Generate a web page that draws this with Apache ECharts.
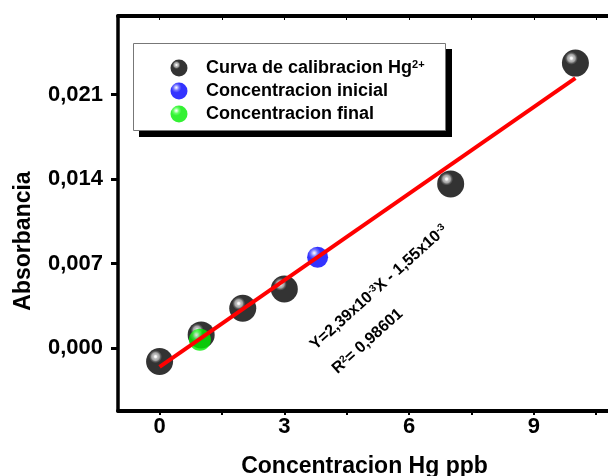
<!DOCTYPE html>
<html>
<head>
<meta charset="utf-8">
<style>
  html, body { margin: 0; padding: 0; background: #ffffff; }
  #chart { width: 608px; height: 476px; }
</style>
<script src="https://cdn.jsdelivr.net/npm/echarts@6/dist/echarts.min.js"></script>
</head>
<body>
<div id="chart"></div>
<script>
// Calibration standards (Hg, ppb) and measured absorbance
const calibX = [0, 1, 2, 3, 7, 10];
const calibY = [-0.0011, 0.0011, 0.0033, 0.0049, 0.0136, 0.0236];

// Sample concentrations before and after treatment
const initialPoint = [[3.8, 0.00753]];
const finalPoint = [[0.97, 0.0007]];

// Linear fit stated on the chart: Y = 2,39x10^-3 X - 1,55x10^-3
const fitSlope = 2.39e-3;
const fitIntercept = -1.55e-3;
const fitRange = [0, 10];

// Axis ticks
const xTickLabels = [0, 3, 6, 9];
const xMinorTicks = [0, 1.5, 3, 4.5, 6, 7.5, 9, 10.5];
const yTickLabels = [0, 0.007, 0.014, 0.021];

const FONT = 'Liberation Sans, Arial, sans-serif';

function sphere(light, mid, edge) {
  return new echarts.graphic.RadialGradient(0.34, 0.3, 0.6, [
    { offset: 0, color: '#ffffff' },
    { offset: 0.1, color: light },
    { offset: 0.28, color: mid },
    { offset: 0.5, color: edge },
    { offset: 1, color: edge }
  ]);
}

const blackBall = new echarts.graphic.RadialGradient(0.35, 0.32, 0.6, [
  { offset: 0, color: '#ffffff' },
  { offset: 0.07, color: '#f0f0f0' },
  { offset: 0.13, color: '#b4b4b4' },
  { offset: 0.24, color: '#8c8c8c' },
  { offset: 0.31, color: '#3a3a3a' },
  { offset: 0.4, color: '#000000' },
  { offset: 1, color: '#000000' }
]);
const blueBall = sphere('#c8c8ff', '#5050ff', '#0000ff');
const greenBall = sphere('#c8ffc8', '#40ff40', '#00ee00');

const fitLine = fitRange.map(x => [x, fitSlope * x + fitIntercept]);

const NAME_CAL = 'Curva de calibracion Hg';
const NAME_INI = 'Concentracion inicial';
const NAME_FIN = 'Concentracion final';

const chart = echarts.init(document.getElementById('chart'), null, { renderer: 'canvas' });

const richSmall = {
  m: { fontFamily: FONT, fontWeight: 'bold', fontSize: 16, lineHeight: 16, fill: '#000' },
  s: { fontFamily: FONT, fontWeight: 'bold', fontSize: 10, lineHeight: 6, verticalAlign: 'top', fill: '#000' }
};

chart.setOption({
  animation: false,
  backgroundColor: '#ffffff',
  textStyle: { fontFamily: FONT },
  grid: { left: 118, top: 16, right: -9, bottom: 65, containLabel: false, outerBoundsMode: 'none' },
  legend: {
    orient: 'vertical',
    left: 133,
    top: 43,
    padding: [16, 20, 9, 37.5],
    itemWidth: 17,
    itemHeight: 17,
    itemGap: 5,
    icon: 'circle',
    selectedMode: false,
    backgroundColor: 'transparent',
    borderWidth: 0,
    z: 6,
    data: [NAME_CAL, NAME_INI, NAME_FIN],
    formatter: function (name) {
      return name === NAME_CAL ? '{g|}{t|' + name + '}{s|2+}' : '{g|}{t|' + name + '}';
    },
    textStyle: {
      fontFamily: FONT,
      fontWeight: 'bold',
      fontSize: 18,
      color: '#000000',
      rich: {
        g: { width: 13.5, lineHeight: 17 },
        t: { fontFamily: FONT, fontWeight: 'bold', fontSize: 18, lineHeight: 17, color: '#000' },
        s: { fontFamily: FONT, fontWeight: 'bold', fontSize: 11, lineHeight: 3, verticalAlign: 'top', color: '#000' }
      }
    }
  },
  xAxis: [
    {
      type: 'value',
      position: 'bottom',
      min: -1,
      max: 11,
      name: 'Concentracion Hg ppb',
      nameLocation: 'middle',
      nameGap: 44,
      nameTextStyle: { fontFamily: FONT, fontWeight: 'bold', fontSize: 23, color: '#000', padding: [0, 6, 0, 0] },
      axisLine: { show: true, onZero: false, lineStyle: { color: '#000', width: 4 } },
      axisTick: { show: true, inside: false, length: 4, customValues: xMinorTicks, lineStyle: { color: '#000', width: 2 } },
      axisLabel: {
        show: true,
        customValues: xTickLabels,
        margin: 5,
        fontFamily: FONT,
        fontWeight: 'bold',
        fontSize: 22,
        color: '#000',
        formatter: v => String(v)
      },
      splitLine: { show: false }
    },
    {
      type: 'value',
      position: 'top',
      min: -1,
      max: 11,
      axisLine: { show: true, onZero: false, lineStyle: { color: '#000', width: 4 } },
      axisTick: { show: true, inside: true, length: 4, customValues: xMinorTicks, lineStyle: { color: '#000', width: 1 } },
      axisLabel: { show: false },
      splitLine: { show: false }
    }
  ],
  yAxis: {
    type: 'value',
    min: -0.0052,
    max: 0.0275,
    axisLine: { show: true, onZero: false, lineStyle: { color: '#000', width: 3.5 } },
    axisTick: { show: true, inside: false, length: 7, customValues: yTickLabels, lineStyle: { color: '#000', width: 3 } },
    axisLabel: {
      show: true,
      customValues: yTickLabels,
      margin: 15,
      fontFamily: FONT,
      fontWeight: 'bold',
      fontSize: 22,
      color: '#000',
      formatter: v => v.toFixed(3).replace('.', ',')
    },
    splitLine: { show: false }
  },
  series: [
    {
      name: NAME_CAL,
      type: 'scatter',
      symbol: 'circle',
      symbolSize: 27,
      itemStyle: { color: blackBall },
      data: calibX.map((x, i) => [x, calibY[i]])
    },
    {
      name: NAME_INI,
      type: 'scatter',
      symbol: 'circle',
      symbolSize: 21,
      itemStyle: { color: blueBall },
      data: initialPoint
    },
    {
      name: NAME_FIN,
      type: 'scatter',
      symbol: 'circle',
      symbolSize: 22,
      itemStyle: { color: greenBall },
      data: finalPoint
    },
    {
      name: 'Ajuste lineal',
      type: 'line',
      showSymbol: false,
      symbol: 'none',
      lineStyle: { color: '#ff0000', width: 4 },
      data: fitLine,
      z: 5
    }
  ],
  graphic: [
    // legend frame with its drop shadow
    {
      type: 'rect',
      z: 5,
      shape: { x: 139, y: 49, width: 313, height: 88 },
      style: { fill: '#000000' }
    },
    {
      type: 'rect',
      z: 5,
      shape: { x: 133.5, y: 43.5, width: 312, height: 87 },
      style: { fill: '#ffffff', stroke: '#777777', lineWidth: 1 }
    },
    // y axis title
    {
      type: 'text',
      x: 24,
      y: 241,
      rotation: Math.PI / 2,
      style: {
        text: 'Absorbancia',
        textAlign: 'center',
        textVerticalAlign: 'middle',
        font: 'bold 23px ' + FONT,
        fill: '#000'
      }
    },
    // fit equation
    {
      type: 'text',
      x: 318,
      y: 353,
      rotation: 42 * Math.PI / 180,
      style: {
        text: '{m|Y=2,39x10}{s|-3}{m|X - 1,55x10}{s|-3}',
        textAlign: 'left',
        textVerticalAlign: 'bottom',
        rich: richSmall
      }
    },
    {
      type: 'text',
      x: 340,
      y: 377,
      rotation: 42 * Math.PI / 180,
      style: {
        text: '{m|R}{s|2}{m|= 0,98601}',
        textAlign: 'left',
        textVerticalAlign: 'bottom',
        rich: richSmall
      }
    }
  ]
});
</script>
</body>
</html>
